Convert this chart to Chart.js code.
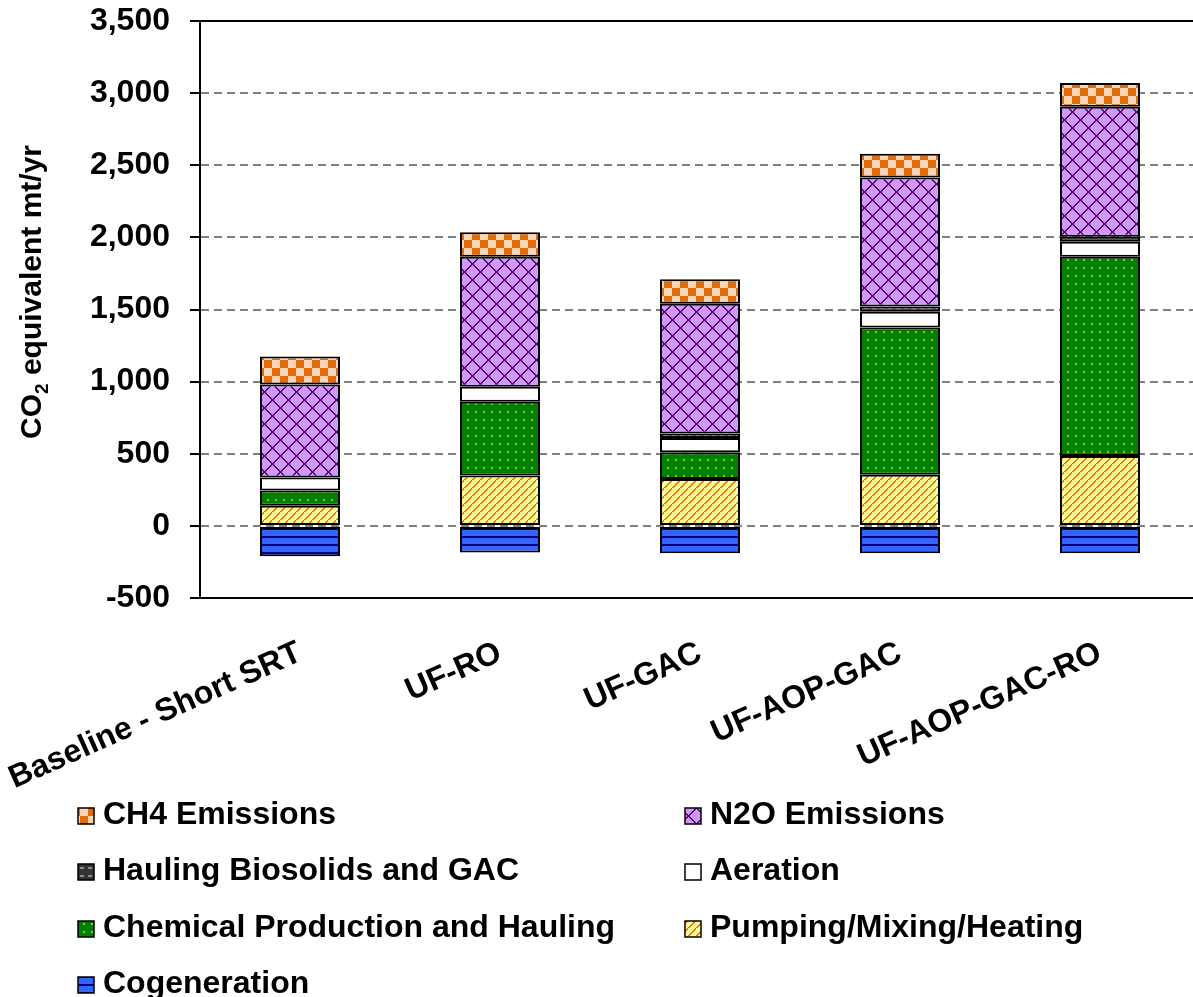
<!DOCTYPE html>
<html lang="en">
<head>
  <meta charset="UTF-8">
  <title>CO2 equivalent by treatment train</title>
  <style>
    html, body { margin: 0; padding: 0; background: #fff; overflow: hidden; }
    #wrap { width: 1200px; height: 997px; }
  </style>
</head>
<body>
  <div id="wrap"><canvas id="myChart"></canvas></div>
  <script src="https://cdn.jsdelivr.net/npm/chart.js"></script>
  <script>
    // values (CO2 equivalent mt/yr)
    const categories = ['Baseline - Short SRT', 'UF-RO', 'UF-GAC', 'UF-AOP-GAC', 'UF-AOP-GAC-RO']
    const cogeneration = [-210, -185, -190, -190, -190]
    const pumping = [140, 350, 325, 355, 485]
    const chemical = [105, 510, 185, 1020, 1380]
    const aeration = [90, 105, 100, 110, 105]
    const hauling = [0, 0, 30, 35, 35]
    const n2o = [645, 900, 900, 895, 900]
    const ch4 = [195, 170, 170, 165, 165]
    const yTicks = [-500, 0, 500, 1000, 1500, 2000, 2500, 3000, 3500]

    const FONT = 'Arial, "Liberation Sans", sans-serif'

    function makePattern(size, bg, draw) {
      const c = document.createElement('canvas')
      c.width = size; c.height = size
      const g = c.getContext('2d')
      g.fillStyle = bg
      g.fillRect(0, 0, size, size)
      draw(g, size)
      return g.createPattern(c, 'repeat')
    }

    const pat = {
      ch4: makePattern(16, '#FBD5B5', g => {
        g.fillStyle = '#E36C0A'
        g.fillRect(0, 0, 8, 8)
        g.fillRect(8, 8, 8, 8)
      }),
      n2o: makePattern(16, '#CC99FF', g => {
        g.fillStyle = '#660066'
        for (let i = 0; i < 16; i++) {
          g.fillRect(i, i, 2, 1)
          g.fillRect(15 - i, i, 2, 1)
        }
      }),
      hauling: makePattern(8, '#333333', g => {
        g.fillStyle = '#8c8c8c'
        g.fillRect(0, 3, 4, 2)
      }),
      aeration: '#ffffff',
      chemical: makePattern(8, '#008000', g => {
        g.fillStyle = '#99CC00'
        g.fillRect(3, 3, 2, 2)
      }),
      pumping: makePattern(8, '#FFFF99', g => {
        g.fillStyle = '#FF6600'
        for (let i = 0; i < 8; i++) g.fillRect(i, 7 - i, 2, 1)
      }),
      cogeneration: makePattern(8, '#3366FF', g => {
        g.fillStyle = '#000080'
        g.fillRect(0, 0, 8, 2)
      })
    }

    const series = [
      { label: 'Cogeneration', data: cogeneration, bg: pat.cogeneration },
      { label: 'Pumping/Mixing/Heating', data: pumping, bg: pat.pumping },
      { label: 'Chemical Production and Hauling', data: chemical, bg: pat.chemical },
      { label: 'Aeration', data: aeration, bg: pat.aeration },
      { label: 'Hauling Biosolids and GAC', data: hauling, bg: pat.hauling },
      { label: 'N2O Emissions', data: n2o, bg: pat.n2o },
      { label: 'CH4 Emissions', data: ch4, bg: pat.ch4 }
    ]

    // y title with subscript 2, top border line, and two-column legend
    const extras = {
      id: 'extras',
      afterDraw(chart) {
        const ctx = chart.ctx
        const area = chart.chartArea
        ctx.save()
        ctx.strokeStyle = '#000'
        ctx.lineWidth = 2
        ctx.beginPath()
        ctx.moveTo(area.left, area.top)
        ctx.lineTo(area.right, area.top)
        ctx.stroke()

        // y axis title
        ctx.translate(41, 292)
        ctx.rotate(-Math.PI / 2)
        ctx.fillStyle = '#000'
        ctx.textBaseline = 'alphabetic'
        const big = 'bold 30px ' + FONT
        const small = 'bold 19px ' + FONT
        ctx.font = big
        const w1 = ctx.measureText('CO').width
        ctx.font = small
        const w2 = ctx.measureText('2').width
        ctx.font = big
        const w3 = ctx.measureText(' equivalent mt/yr').width
        let x = -(w1 + w2 + w3) / 2
        ctx.fillText('CO', x, 0)
        ctx.font = small
        ctx.fillText('2', x + w1, 7)
        ctx.font = big
        ctx.fillText(' equivalent mt/yr', x + w1 + w2, 0)
        ctx.restore()

        // legend
        const items = chart.data.datasets.slice().reverse()
        const colX = [78, 685]
        const rowY = [824, 880, 937, 993]
        ctx.save()
        ctx.font = 'bold 32px ' + FONT
        ctx.textBaseline = 'alphabetic'
        items.forEach((ds, i) => {
          const bx = colX[i % 2]
          const by = rowY[Math.floor(i / 2)]
          ctx.fillStyle = ds.backgroundColor
          ctx.fillRect(bx, by - 16, 16, 16)
          ctx.strokeStyle = '#000'
          ctx.lineWidth = 1.5
          ctx.strokeRect(bx, by - 16, 16, 16)
          ctx.fillStyle = '#000'
          ctx.fillText(ds.label, bx + 25, by)
        })
        ctx.restore()
      }
    }

    const ctx = document.getElementById('myChart')

    new Chart(ctx, {
      type: 'bar',
      data: {
        labels: categories,
        datasets: series.map(s => ({
          label: s.label,
          data: s.data,
          backgroundColor: s.bg,
          borderColor: '#000',
          borderWidth: 2,
          borderSkipped: false,
          barPercentage: 0.4,
          categoryPercentage: 1.0
        }))
      },
      options: {
        responsive: true,
        maintainAspectRatio: false,
        animation: false,
        layout: { padding: { top: 21, left: 0, right: 0, bottom: 0 } },
        plugins: {
          legend: { display: false },
          tooltip: { enabled: false }
        },
        scales: {
          x: {
            stacked: true,
            grid: { display: false, drawTicks: false },
            border: { display: true, color: '#000', width: 2 },
            ticks: {
              color: '#000',
              font: { family: FONT, size: 32, weight: 'bold' },
              minRotation: 24,
              maxRotation: 24,
              autoSkip: false,
              padding: 36
            },
            afterFit: scale => {
              scale.height = 997 - 598
              scale.paddingLeft = 0
              scale.paddingRight = 0
            }
          },
          y: {
            stacked: true,
            min: yTicks[0],
            max: yTicks[yTicks.length - 1],
            afterBuildTicks: scale => { scale.ticks = yTicks.map(v => ({ value: v })) },
            grid: {
              color: c => (c.tick && (c.tick.value === yTicks[0] || c.tick.value === yTicks[yTicks.length - 1])) ? 'rgba(0,0,0,0)' : '#808080',
              lineWidth: 2,
              tickLength: 10,
              tickColor: '#000',
              tickWidth: 2
            },
            border: { display: true, color: '#000', width: 2, dash: [8, 5] },
            ticks: {
              color: '#000',
              font: { family: FONT, size: 32, weight: 'bold' },
              padding: 20,
              callback: v => Number(v).toLocaleString('en-US')
            },
            afterFit: scale => {
              scale.width = 200
              scale.paddingTop = 0
              scale.paddingBottom = 0
            }
          }
        }
      },
      plugins: [extras]
    });
  </script>
</body>
</html>
